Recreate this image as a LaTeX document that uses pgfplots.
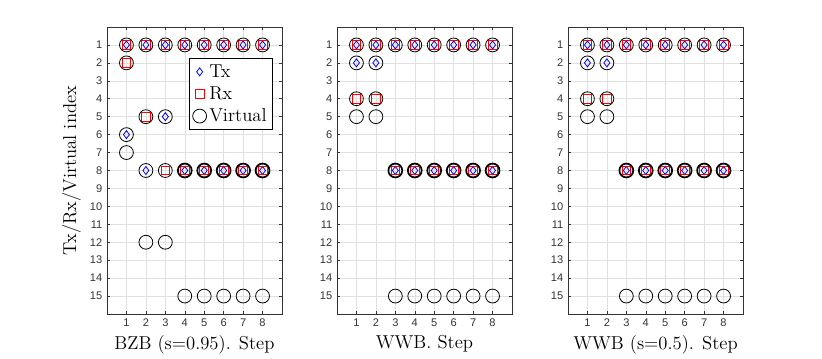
\documentclass[border=0pt]{standalone}
\usepackage{fontspec}
\setsansfont{Liberation Sans}
\usepackage{pgfplots}
\pgfplotsset{compat=1.18}

\pgfplotsset{
  stepax/.style={
    at={#1}, anchor=south west,
    width=131.25pt, height=215.25pt, scale only axis,
    xmin=0, xmax=9, ymin=0, ymax=16, y dir=reverse,
    xtick={1,...,8}, ytick={1,...,15},
    grid=major, major grid style={black!12, line width=0.4pt},
    tick pos=both, tick align=inside, major tick length=2.5pt,
    axis line style={black!80, line width=0.5pt},
    tick style={black!80, line width=0.4pt},
    ticklabel style={font=\sffamily\fontsize{8.3}{9}\selectfont, text=black!80},
    /pgf/number format/assume math mode=true,
    label style={font=\fontsize{14}{16}\selectfont},
  },
  txm/.style={only marks, mark=diamond, mark size=3pt, blue, mark options={line width=0.6pt}},
  rxm/.style={only marks, mark=square, mark size=3.3pt, red, mark options={line width=0.6pt}},
  vim/.style={only marks, mark=o, mark size=5.2pt, black, mark options={line width=0.6pt}},
  vthick/.style={only marks, mark=o, mark size=5.2pt, black, mark options={line width=1.3pt}},
}

\begin{document}
\begin{tikzpicture}
\path[use as bounding box] (0,0) rectangle (616.5pt,269.25pt);

% BZB (s=0.95)
\begin{axis}[stepax={(80.25pt,33.75pt)},
  xlabel={BZB (s=0.95). Step}, ylabel={Tx/Rx/Virtual index},
  legend style={at={(axis cs:4.22,1.74)}, anchor=north west,
    font=\fontsize{14}{16}\selectfont, draw=black, line width=0.5pt,
    row sep=1.5pt, inner sep=2.5pt},
  legend cell align=left]
  \addplot[txm] coordinates {(1,1)(2,1)(3,1)(4,1)(5,1)(6,1)(7,1)(8,1)
    (1,6)(2,8)(3,5)(4,8)(5,8)(6,8)(7,8)(8,8)};
  \addlegendentry{Tx}
  \addplot[rxm] coordinates {(1,1)(2,1)(3,1)(4,1)(5,1)(6,1)(7,1)(8,1)
    (1,2)(2,5)(3,8)(4,8)(5,8)(6,8)(7,8)(8,8)};
  \addlegendentry{Rx}
  \addplot[vim] coordinates {(1,1)(2,1)(3,1)(4,1)(5,1)(6,1)(7,1)(8,1)
    (1,2)(1,6)(1,7)(2,5)(2,8)(2,12)(3,5)(3,8)(3,12)
    (4,15)(5,15)(6,15)(7,15)(8,15)};
  \addlegendentry{Virtual}
  \addplot[vthick, forget plot] coordinates {(4,8)(5,8)(6,8)(7,8)(8,8)};
\end{axis}

% WWB
\begin{axis}[stepax={(252.75pt,33.75pt)}, xlabel={WWB. Step}]
  \addplot[txm] coordinates {(1,1)(2,1)(3,1)(4,1)(5,1)(6,1)(7,1)(8,1)
    (1,2)(2,2)(3,8)(4,8)(5,8)(6,8)(7,8)(8,8)};
  \addplot[rxm] coordinates {(1,1)(2,1)(3,1)(4,1)(5,1)(6,1)(7,1)(8,1)
    (1,4)(2,4)(3,8)(4,8)(5,8)(6,8)(7,8)(8,8)};
  \addplot[vim] coordinates {(1,1)(2,1)(3,1)(4,1)(5,1)(6,1)(7,1)(8,1)
    (1,2)(2,2)(1,4)(2,4)(1,5)(2,5)
    (3,15)(4,15)(5,15)(6,15)(7,15)(8,15)};
  \addplot[vthick] coordinates {(3,8)(4,8)(5,8)(6,8)(7,8)(8,8)};
\end{axis}

% WWB (s=0.5)
\begin{axis}[stepax={(426pt,33.75pt)}, xlabel={WWB (s=0.5). Step}]
  \addplot[txm] coordinates {(1,1)(2,1)(3,1)(4,1)(5,1)(6,1)(7,1)(8,1)
    (1,2)(2,2)(3,8)(4,8)(5,8)(6,8)(7,8)(8,8)};
  \addplot[rxm] coordinates {(1,1)(2,1)(3,1)(4,1)(5,1)(6,1)(7,1)(8,1)
    (1,4)(2,4)(3,8)(4,8)(5,8)(6,8)(7,8)(8,8)};
  \addplot[vim] coordinates {(1,1)(2,1)(3,1)(4,1)(5,1)(6,1)(7,1)(8,1)
    (1,2)(2,2)(1,4)(2,4)(1,5)(2,5)
    (3,15)(4,15)(5,15)(6,15)(7,15)(8,15)};
  \addplot[vthick] coordinates {(3,8)(4,8)(5,8)(6,8)(7,8)(8,8)};
\end{axis}
\end{tikzpicture}
\end{document}
